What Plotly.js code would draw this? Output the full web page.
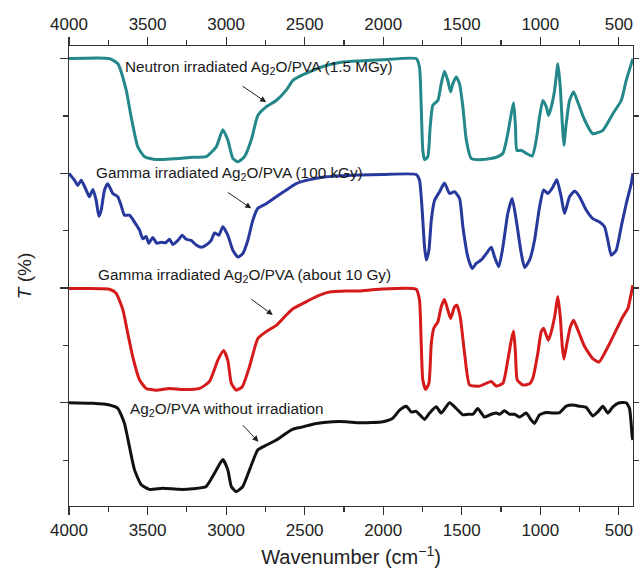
<!DOCTYPE html>
<html>
<head>
<meta charset="utf-8">
<script src="https://cdn.plot.ly/plotly-3.0.1.min.js"></script>
<style>html,body{margin:0;padding:0;background:#fff;}#chart{width:639px;height:574px;}</style>
</head>
<body>
<div id="chart"></div>
<script>
// Wavenumber (cm^-1) and offset transmittance values
const neutronWn = [4000,3742,3689,3636,3604,3562,3519,3445,3212,3127,3063,3021,2989,2957,2925,2883,2840,2798,2745,2681,2617,2575,2533,2469,2363,2257,2151,2000,1790,1769,1758,1748,1737,1716,1701,1684,1652,1631,1610,1589,1571,1557,1535,1514,1493,1471,1440,1366,1280,1238,1207,1185,1170,1158,1149,1121,1090,1051,1026,1005,984,962,948,930,909,888,873,860,850,835,814,788,761,718,666,602,538,485,453,411];
const neutronT  = [8.0,8.0,7.91,7.45,6.98,6.46,6.29,6.24,6.28,6.29,6.46,6.76,6.58,6.26,6.20,6.29,6.58,7.01,7.16,7.27,7.45,7.62,7.69,7.77,7.88,7.94,7.96,7.98,8.0,7.85,7.16,6.40,6.24,6.29,6.81,7.19,7.27,7.56,7.78,7.62,7.42,7.56,7.68,7.56,7.16,6.58,6.26,6.24,6.28,6.35,6.69,7.04,7.23,6.81,6.40,6.40,6.35,6.30,6.58,6.98,7.27,7.16,7.01,7.16,7.45,7.91,7.51,6.87,6.49,6.87,7.27,7.42,7.24,6.93,6.69,6.75,7.04,7.27,7.62,8.0];

const gamma100Wn = [4000,3965,3944,3922,3891,3870,3848,3827,3810,3795,3774,3753,3721,3689,3668,3647,3615,3583,3551,3530,3509,3492,3467,3441,3413,3386,3360,3339,3307,3279,3254,3222,3190,3158,3127,3095,3074,3046,3021,2989,2957,2925,2894,2862,2830,2798,2745,2681,2617,2554,2469,2363,2257,2151,2000,1790,1769,1752,1737,1726,1709,1694,1673,1641,1610,1578,1546,1514,1493,1461,1433,1408,1376,1344,1312,1291,1264,1238,1207,1179,1153,1121,1100,1068,1037,1005,979,952,920,895,867,846,814,782,750,708,666,623,591,570,548,517,485,453,421,411];
const gamma100T  = [6.0,5.88,5.79,5.88,5.71,5.59,5.72,5.53,5.25,5.36,5.71,5.82,5.65,5.59,5.44,5.27,5.27,5.15,5.01,4.86,4.90,4.78,4.88,4.78,4.80,4.79,4.85,4.76,4.83,4.92,4.85,4.83,4.75,4.71,4.75,4.83,4.96,4.92,5.07,4.92,4.66,4.54,4.60,4.83,5.18,5.39,5.47,5.59,5.71,5.82,5.89,5.94,5.96,5.97,5.98,5.98,5.88,5.36,4.72,4.49,4.66,5.18,5.53,5.68,5.83,5.65,5.68,5.56,5.07,4.54,4.34,4.43,4.49,4.60,4.71,4.54,4.37,4.72,5.30,5.56,5.18,4.60,4.36,4.49,4.83,5.41,5.71,5.65,5.76,5.89,5.59,5.30,5.59,5.69,5.59,5.36,5.21,5.15,5.07,4.83,4.57,4.66,5.07,5.47,5.82,6.0];

const gamma10Wn = [4000,3742,3700,3657,3626,3594,3551,3509,3445,3360,3276,3169,3106,3053,3016,2989,2967,2936,2897,2851,2798,2745,2681,2617,2575,2512,2426,2342,2235,2151,2023,1790,1769,1758,1748,1730,1709,1694,1678,1652,1631,1610,1589,1571,1546,1531,1510,1482,1450,1387,1312,1280,1238,1207,1185,1170,1158,1147,1111,1068,1047,1016,994,979,962,948,930,909,888,873,860,850,831,809,788,761,718,666,627,580,527,475,443,421,411];
const gamma10T  = [3.99,3.98,3.91,3.62,3.21,2.80,2.40,2.25,2.22,2.25,2.23,2.25,2.37,2.74,2.91,2.74,2.34,2.22,2.28,2.63,3.12,3.24,3.35,3.53,3.64,3.73,3.85,3.93,3.95,3.95,3.98,3.98,3.79,3.03,2.40,2.23,2.34,3.03,3.30,3.41,3.67,3.80,3.62,3.47,3.67,3.70,3.50,2.86,2.31,2.29,2.37,2.29,2.34,2.74,3.09,3.25,2.86,2.40,2.31,2.33,2.43,2.86,3.24,3.30,3.18,3.09,3.24,3.50,3.85,3.50,2.98,2.76,3.03,3.32,3.44,3.27,2.98,2.77,2.71,2.92,3.21,3.50,3.64,3.91,4.05];

const pristineWn = [4000,3848,3742,3689,3647,3615,3583,3540,3488,3403,3297,3212,3127,3074,3021,2989,2967,2936,2894,2851,2798,2745,2681,2617,2575,2512,2426,2321,2235,2151,2002,1939,1896,1853,1822,1790,1737,1705,1662,1631,1578,1535,1493,1461,1429,1398,1355,1312,1280,1259,1228,1196,1164,1132,1090,1058,1037,1005,962,920,877,835,793,750,708,666,634,602,570,538,496,453,432,415,411];
const pristineT  = [2.0,1.99,1.96,1.90,1.64,1.23,0.83,0.57,0.49,0.51,0.49,0.50,0.54,0.77,1.01,0.83,0.54,0.45,0.54,0.83,1.18,1.26,1.35,1.47,1.54,1.58,1.64,1.67,1.67,1.65,1.67,1.73,1.87,1.94,1.84,1.85,1.71,1.82,1.93,1.82,2.0,1.90,1.79,1.80,1.80,1.90,1.75,1.80,1.82,1.80,1.86,1.80,1.80,1.75,1.82,1.70,1.64,1.79,1.83,1.82,1.83,1.94,1.96,1.94,1.92,1.77,1.84,1.94,1.82,1.93,2.0,2.0,1.90,1.41,1.35];

const tickVals = [4000,3500,3000,2500,2000,1500,1000,500];
const tickText = ['4000','3500','3000','2500','2000','1500','1000','500'];

const FONT = 'Liberation Sans, Arial, Helvetica, sans-serif';
const AX = '#333';

function line(x, y, color) {
  return {x: x, y: y, type: 'scatter', mode: 'lines',
    line: {color: color, width: 3, shape: 'spline', smoothing: 0.5},
    hoverinfo: 'skip', showlegend: false};
}

const traces = [
  line(neutronWn, neutronT, '#24878a'),
  line(gamma100Wn, gamma100T, '#27399c'),
  line(gamma10Wn, gamma10T, '#d51a1c'),
  line(pristineWn, pristineT, '#111111'),
  {x: [tickVals[0]], y: [null], xaxis: 'x2', type: 'scatter', mode: 'lines', showlegend: false, hoverinfo: 'skip'}
];

const xCommon = {
  range: [4000, 410], tickmode: 'array', tickvals: tickVals, ticktext: tickText,
  ticks: 'outside', ticklen: 8, tickwidth: 1.2, tickcolor: AX,
  minor: {dtick: 250, tick0: 0, ticks: 'outside', ticklen: 5, tickwidth: 1.2, tickcolor: AX},
  showline: true, linecolor: AX, linewidth: 1.3, showgrid: false, zeroline: false,
  tickfont: {family: FONT, size: 17, color: '#222'}
};

const layout = {
  width: 639, height: 574,
  margin: {l: 69, r: 6, t: 46, b: 68},
  paper_bgcolor: '#ffffff', plot_bgcolor: '#ffffff',
  font: {family: FONT, color: '#222'},
  xaxis: Object.assign({}, xCommon, {
    title: {text: 'Wavenumber (cm<sup>\u22121</sup>)', font: {family: FONT, size: 20, color: '#222'}, standoff: 11}
  }),
  xaxis2: Object.assign({}, xCommon, {overlaying: 'x', side: 'top', matches: 'x', anchor: 'y'}),
  yaxis: {
    range: [0.2, 8.22], tick0: 0, dtick: 2, showticklabels: false,
    ticks: 'outside', ticklen: 8, tickwidth: 1.2, tickcolor: AX,
    minor: {dtick: 1, tick0: 0, ticks: 'outside', ticklen: 5, tickwidth: 1.2, tickcolor: AX},
    showline: true, linecolor: AX, linewidth: 1.3, mirror: 'ticks',
    showgrid: false, zeroline: false,
    title: {text: '<i>T</i> (%)', font: {family: FONT, size: 19, color: '#222'}, standoff: 23}
  },
  annotations: [
    {x: 3657, y: 7.85, xref: 'x', yref: 'y', xanchor: 'left', yanchor: 'middle', showarrow: false,
     text: 'Neutron irradiated Ag<sub>2</sub>O/PVA (1.5 MGy)', font: {family: FONT, size: 15.3, color: '#1a1a1a'}},
    {x: 3838, y: 6.0, xref: 'x', yref: 'y', xanchor: 'left', yanchor: 'middle', showarrow: false,
     text: 'Gamma irradiated Ag<sub>2</sub>O/PVA (100 kGy)', font: {family: FONT, size: 15.3, color: '#1a1a1a'}},
    {x: 3827, y: 4.22, xref: 'x', yref: 'y', xanchor: 'left', yanchor: 'middle', showarrow: false,
     text: 'Gamma irradiated Ag<sub>2</sub>O/PVA (about 10 Gy)', font: {family: FONT, size: 15.3, color: '#1a1a1a'}},
    {x: 3626, y: 1.885, xref: 'x', yref: 'y', xanchor: 'left', yanchor: 'middle', showarrow: false,
     text: 'Ag<sub>2</sub>O/PVA without irradiation', font: {family: FONT, size: 15.3, color: '#1a1a1a'}},
    {x: 2745, y: 7.24, xref: 'x', yref: 'y', text: '', showarrow: true, ax: -25, ay: -17,
     arrowhead: 2, arrowsize: 1.2, arrowwidth: 1, arrowcolor: '#222'},
    {x: 2840, y: 5.39, xref: 'x', yref: 'y', text: '', showarrow: true, ax: -25, ay: -17,
     arrowhead: 2, arrowsize: 1.2, arrowwidth: 1, arrowcolor: '#222'},
    {x: 2703, y: 3.53, xref: 'x', yref: 'y', text: '', showarrow: true, ax: -23, ay: -17,
     arrowhead: 2, arrowsize: 1.2, arrowwidth: 1, arrowcolor: '#222'},
    {x: 2794, y: 1.32, xref: 'x', yref: 'y', text: '', showarrow: true, ax: -17, ay: -18,
     arrowhead: 2, arrowsize: 1.2, arrowwidth: 1, arrowcolor: '#222'}
  ]
};

Plotly.newPlot('chart', traces, layout, {displayModeBar: false, staticPlot: true});
</script>
</body>
</html>
